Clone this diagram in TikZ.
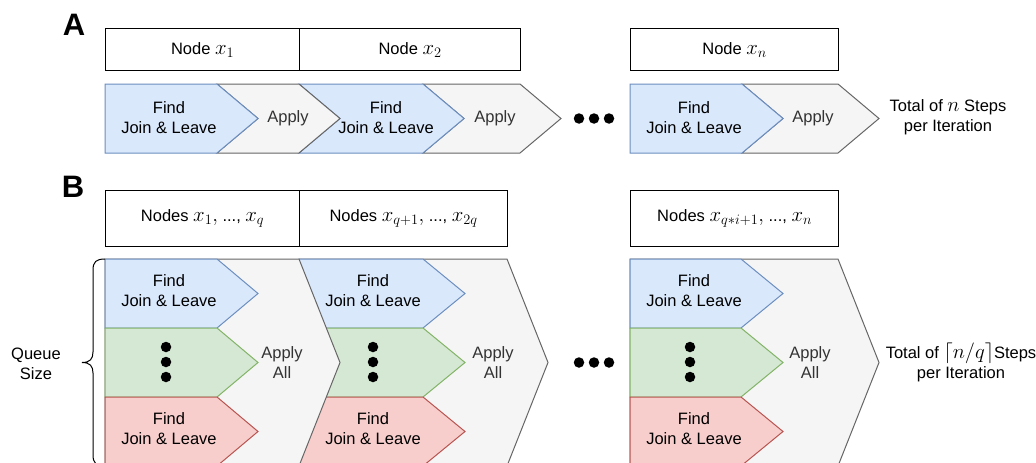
\documentclass[tikz,border=0pt]{standalone}
\usepackage[no-math]{fontspec}
\setmainfont{Liberation Sans}
\definecolor{blueF}{HTML}{DAE8FC}
\definecolor{blueD}{HTML}{6C8EBF}
\definecolor{greenF}{HTML}{D5E8D4}
\definecolor{greenD}{HTML}{82B366}
\definecolor{redF}{HTML}{F8CECC}
\definecolor{redD}{HTML}{B85450}
\definecolor{grayF}{HTML}{F5F5F5}
\definecolor{grayD}{HTML}{666666}
\definecolor{applyT}{HTML}{333333}
\newcommand{\bm}[1]{{\fontsize{20.5}{20}\selectfont$#1$}}
\tikzset{
  boxnode/.style={draw=black, line width=1.2pt, fill=white, anchor=north west, inner sep=0pt,
    font=\fontsize{16.5}{20}\selectfont},
  bluestep/.style={fill=blueF, draw=blueD, line width=1pt, line join=miter},
  greenstep/.style={fill=greenF, draw=greenD, line width=1pt, line join=miter},
  redstep/.style={fill=redF, draw=redD, line width=1pt, line join=miter},
  graystep/.style={fill=grayF, draw=grayD, line width=1pt, line join=miter},
  txt/.style={font=\fontsize{16.5}{20}\selectfont, align=center, inner sep=0pt},
  applytxt/.style={txt, text=applyT},
  bigdot/.style={circle, fill=black, inner sep=0pt, minimum size=10.5pt},
  panel/.style={font=\fontsize{31}{31}\selectfont\bfseries, inner sep=0pt}
}
\begin{document}
\begin{tikzpicture}[x=1pt,y=-1pt]
\useasboundingbox (0,0) rectangle (1036,463);
\clip (0,0) rectangle (1036,463);

% ---------------- Panel A ----------------
\node[panel] (labA) at (74,24.5) {A};
\node[boxnode, minimum width=194pt, minimum height=42pt] (a1) at (105,28) {Node \bm{x_1}};
\node[boxnode, minimum width=221pt, minimum height=42pt] (a2) at (299,28) {Node \bm{x_2}};
\node[boxnode, minimum width=208pt, minimum height=42pt] (a3) at (630,28) {Node \bm{x_n}};

% column 2
\filldraw[graystep] (423,84) -- (520,84) -- (561,118.5) -- (520,153) -- (423,153) -- (464,118.5) -- cycle;
\filldraw[bluestep] (299,84) -- (423,84) -- (464,118.5) -- (423,153) -- (299,153) -- (340,118.5) -- cycle;
% column 1
\filldraw[graystep] (217,84) -- (299,84) -- (340,118.5) -- (299,153) -- (217,153) -- (258,118.5) -- cycle;
\filldraw[bluestep] (105,84) -- (217,84) -- (258,118.5) -- (217,153) -- (105,153) -- cycle;
% column n
\filldraw[graystep] (742,84) -- (838,84) -- (879,118.5) -- (838,153) -- (742,153) -- (783,118.5) -- cycle;
\filldraw[bluestep] (630,84) -- (742,84) -- (783,118.5) -- (742,153) -- (630,153) -- cycle;

\node[txt] (fa1) at (169,118) {Find\\Join \& Leave};
\node[applytxt] (pa1) at (288,118) {Apply};
\node[txt] (fa2) at (386,118) {Find\\Join \& Leave};
\node[applytxt] (pa2) at (495,118) {Apply};
\node[txt] (fa3) at (694,118) {Find\\Join \& Leave};
\node[applytxt] (pa3) at (813,118) {Apply};

\node[bigdot] (da1) at (579,118.5) {};
\node[bigdot] (da2) at (594,118.5) {};
\node[bigdot] (da3) at (609,118.5) {};

\node[txt] (tota) at (948,117) {Total of \bm{n} Steps\\per Iteration};

% ---------------- Panel B ----------------
\node[panel] (labB) at (73,187) {B};
\node[boxnode, minimum width=194pt, minimum height=56pt] (b1) at (105,190) {Nodes \bm{x_1,} ..., \bm{x_q}};
\node[boxnode, minimum width=208pt, minimum height=56pt] (b2) at (299,190) {Nodes \bm{x_{q+1},} ..., \bm{x_{2q}}};
\node[boxnode, minimum width=208pt, minimum height=56pt] (b3) at (630,190) {Nodes \bm{x_{q*i+1},} ..., \bm{x_n}};

% column 2 (drawn first, partly covered by column 1)
\filldraw[graystep] (299,259) -- (507,259) -- (548,362.5) -- (507,466) -- (299,466) -- cycle;
\filldraw[bluestep]  (299,259) -- (423,259) -- (465,293.5) -- (423,328) -- (299,328) -- cycle;
\filldraw[greenstep] (299,328) -- (423,328) -- (465,362.5) -- (423,397) -- (299,397) -- cycle;
\filldraw[redstep]   (299,397) -- (423,397) -- (465,431.5) -- (423,466) -- (299,466) -- cycle;
% column 1
\filldraw[graystep] (105,259) -- (299,259) -- (340,362.5) -- (299,466) -- (105,466) -- cycle;
\filldraw[bluestep]  (105,259) -- (217,259) -- (258,293.5) -- (217,328) -- (105,328) -- cycle;
\filldraw[greenstep] (105,328) -- (217,328) -- (258,362.5) -- (217,397) -- (105,397) -- cycle;
\filldraw[redstep]   (105,397) -- (217,397) -- (258,431.5) -- (217,466) -- (105,466) -- cycle;
% column n
\filldraw[graystep] (630,259) -- (838,259) -- (879,362.5) -- (838,466) -- (630,466) -- cycle;
\filldraw[bluestep]  (630,259) -- (741,259) -- (783,293.5) -- (741,328) -- (630,328) -- cycle;
\filldraw[greenstep] (630,328) -- (741,328) -- (783,362.5) -- (741,397) -- (630,397) -- cycle;
\filldraw[redstep]   (630,397) -- (741,397) -- (783,431.5) -- (741,466) -- (630,466) -- cycle;

\node[txt] (fb1) at (169,290.5) {Find\\Join \& Leave};
\node[txt] (rb1) at (169,429) {Find\\Join \& Leave};
\node[applytxt] (pb1) at (282,363) {Apply\\All};
\node[txt] (fb2) at (373,290.5) {Find\\Join \& Leave};
\node[txt] (rb2) at (373,429) {Find\\Join \& Leave};
\node[applytxt] (pb2) at (493,363) {Apply\\All};
\node[txt] (fb3) at (694,290.5) {Find\\Join \& Leave};
\node[txt] (rb3) at (694,429) {Find\\Join \& Leave};
\node[applytxt] (pb3) at (810,363) {Apply\\All};

\foreach \cx/\nm in {166/g1, 373/g2, 690/g3}{
  \node[bigdot] (\nm a) at (\cx,347) {};
  \node[bigdot] (\nm b) at (\cx,362) {};
  \node[bigdot] (\nm c) at (\cx,377) {};
}
\node[bigdot] (db1) at (579,362.5) {};
\node[bigdot] (db2) at (594,362.5) {};
\node[bigdot] (db3) at (609,362.5) {};

\node[txt] (totb) at (961,362.5) {Total of \bm{\lceil n/q\rceil}Steps\\per Iteration};

% brace and queue size
\coordinate (brT) at (105,259);
\coordinate (brB) at (105,466);
\draw[line width=1pt] (brT) .. controls (96,259) and (93,262) .. (93,270) -- (93,352)
  .. controls (93,359) and (90,362.5) .. (82,362.5)
  .. controls (90,362.5) and (93,366) .. (93,373) -- (93,455)
  .. controls (93,463) and (96,466) .. (brB);
\node[txt] (qs) at (36,364) {Queue\\Size};
\end{tikzpicture}
\end{document}
